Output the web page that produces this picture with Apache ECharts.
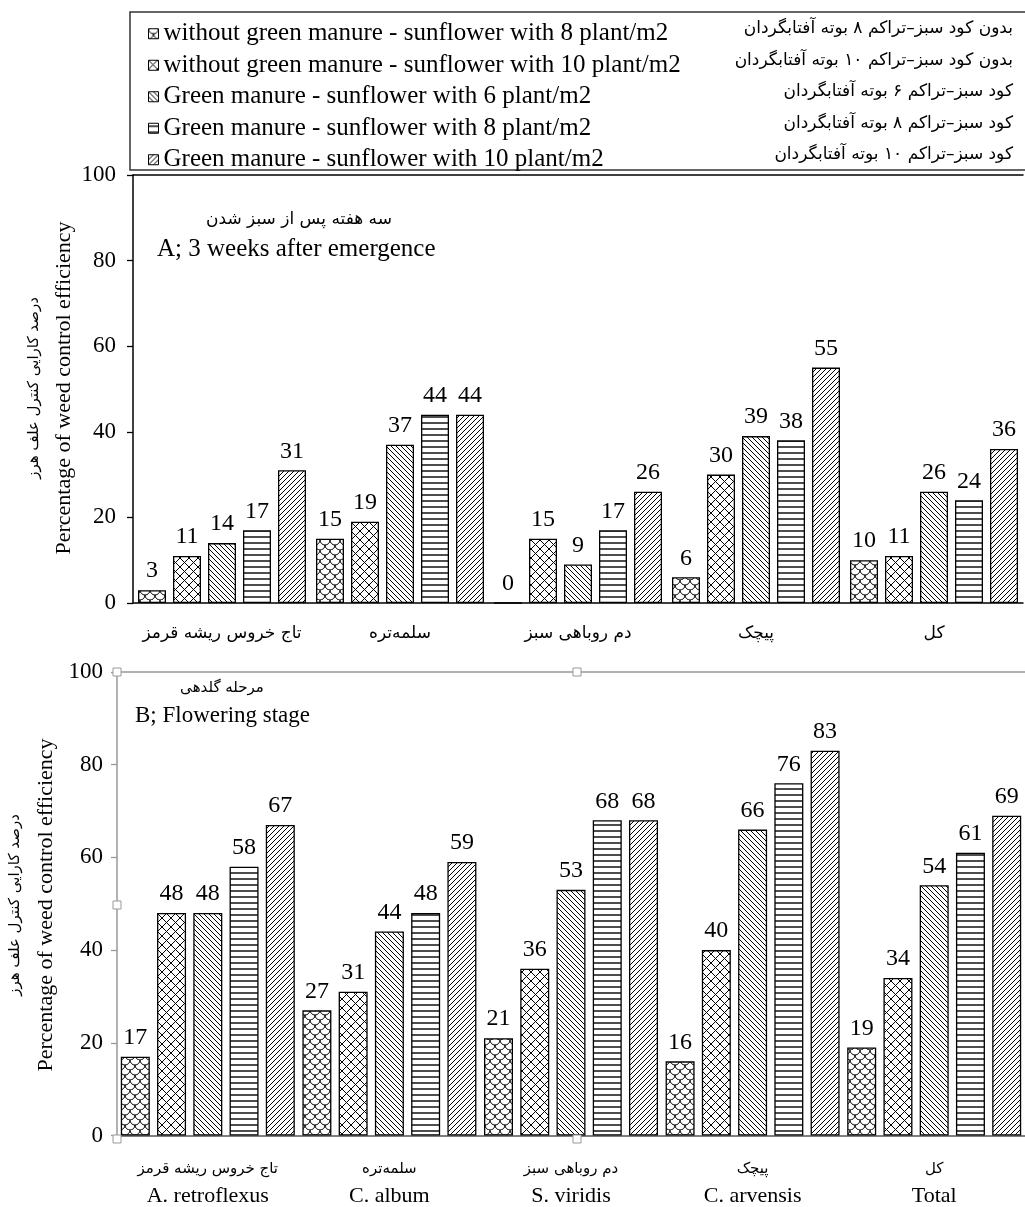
<!DOCTYPE html>
<html><head><meta charset="utf-8">
<script src="https://cdn.jsdelivr.net/npm/echarts@6/dist/echarts.min.js"></script>
<style>html,body{margin:0;padding:0;background:#fff}#c{width:1025px;height:1207px}</style>
</head><body><div id="c"></div>
<script>
// ---- data ----
const categoriesFa = ['تاج خروس ریشه قرمز', 'سلمه‌تره', 'دم روباهی سبز', 'پیچک', 'کل'];
const categoriesEn = ['A. retroflexus', 'C. album', 'S. viridis', 'C. arvensis', 'Total'];
const seriesNames = [
  'without green manure - sunflower with 8 plant/m2',
  'without green manure - sunflower with 10 plant/m2',
  'Green manure - sunflower with 6 plant/m2',
  'Green manure - sunflower with 8 plant/m2',
  'Green manure - sunflower with 10 plant/m2'
];
const seriesNamesFa = [
  'بدون کود سبز–تراکم ۸ بوته آفتابگردان',
  'بدون کود سبز–تراکم ۱۰ بوته آفتابگردان',
  'کود سبز–تراکم ۶ بوته آفتابگردان',
  'کود سبز–تراکم ۸ بوته آفتابگردان',
  'کود سبز–تراکم ۱۰ بوته آفتابگردان'
];
// A: 3 weeks after emergence
const stageA_noGM8  = [3, 15, 0, 6, 10];
const stageA_noGM10 = [11, 19, 15, 30, 11];
const stageA_GM6    = [14, 37, 9, 39, 26];
const stageA_GM8    = [17, 44, 17, 38, 24];
const stageA_GM10   = [31, 44, 26, 55, 36];
// B: flowering stage
const stageB_noGM8  = [17, 27, 21, 16, 19];
const stageB_noGM10 = [48, 31, 36, 40, 34];
const stageB_GM6    = [48, 44, 53, 66, 54];
const stageB_GM8    = [58, 48, 68, 76, 61];
const stageB_GM10   = [67, 59, 68, 83, 69];
const yTickMin = 0, yTickMax = 100, yTickStep = 20;
const titleEn = 'Percentage of weed control efficiency';
const titleFa = 'درصد کارایی کنترل علف هرز';
const noteA_fa = 'سه هفته پس از سبز شدن', noteA_en = 'A; 3 weeks after emergence';
const noteB_fa = 'مرحله گلدهی', noteB_en = 'B; Flowering stage';

// ---- patterns ----
function mk(w, h, draw) {
  const c = document.createElement('canvas'); c.width = w; c.height = h;
  const x = c.getContext('2d'); x.fillStyle = '#fff'; x.fillRect(0, 0, w, h);
  x.strokeStyle = '#000'; x.lineWidth = 1; x.beginPath(); draw(x, w, h); x.stroke(); return c;
}
const patScale = mk(10, 10, (x) => {
  // fish-scale / shingle look
  for (const cx of [-5, 5, 15]) { x.moveTo(cx + 5, 0); x.arc(cx, 0, 5, 0, Math.PI); }
  for (const cx of [0, 10]) { x.moveTo(cx + 5, 5); x.arc(cx, 5, 5, 0, Math.PI); }
  for (const cx of [-5, 5, 15]) { x.moveTo(cx + 5, 10); x.arc(cx, 10, 5, 0, Math.PI); }
});
const patCross = mk(9, 9, (x) => { x.moveTo(-1, -1); x.lineTo(10, 10); x.moveTo(-1, 10); x.lineTo(10, -1); });
const patBack = mk(10, 10, (x) => { for (let k = -10; k <= 10; k += 5) { x.moveTo(k, 0); x.lineTo(k + 10, 10); } });
const patHoriz = mk(6, 6, (x) => { x.lineWidth = 1.4; x.moveTo(0, 3); x.lineTo(6, 3); });
const patFwd = mk(10, 10, (x) => { for (let k = 0; k <= 20; k += 5) { x.moveTo(k, 0); x.lineTo(k - 10, 10); } });
const patterns = [patScale, patCross, patBack, patHoriz, patFwd].map(c => ({ image: c, repeat: 'repeat' }));

const serif = "'Liberation Serif', 'Times New Roman', serif";
const fa = "'DejaVu Sans', sans-serif";
const chart = echarts.init(document.getElementById('c'));

const stageA = [stageA_noGM8, stageA_noGM10, stageA_GM6, stageA_GM8, stageA_GM10];
const stageB = [stageB_noGM8, stageB_noGM10, stageB_GM6, stageB_GM8, stageB_GM10];

function mkSeries(arr, idx, barW) {
  return arr.map((d, i) => ({
    name: seriesNames[i], type: 'bar', xAxisIndex: idx, yAxisIndex: idx, data: d,
    barWidth: barW, barGap: '25%',
    itemStyle: { color: patterns[i], borderColor: '#000', borderWidth: 1.3 },
    label: { show: true, position: 'top', distance: 7, fontFamily: serif, fontSize: 24, color: '#000' },
    emphasis: { disabled: true }, animation: false
  }));
}

const yAxisBase = (idx, col, margin) => ({
  type: 'value', gridIndex: idx, min: yTickMin, max: yTickMax, interval: yTickStep,
  axisLine: { show: true, lineStyle: { color: col, width: 1.5 } },
  axisTick: { show: true, length: 6, lineStyle: { color: col, width: 1.3 } },
  axisLabel: { fontFamily: serif, fontSize: 23, color: '#000', margin: margin },
  splitLine: { show: false }
});

const graphics = [
  { type: 'rect', shape: { x: 130, y: 12, width: 1000, height: 158 }, style: { fill: 'none', stroke: '#333', lineWidth: 1.5 } }
];
const rowY = [29, 61, 92, 124, 155];
seriesNamesFa.forEach((t, i) => graphics.push({ type: 'text', x: 1013, y: rowY[i], style: { text: t, align: 'right', verticalAlign: 'middle', font: '17px ' + fa, fill: '#000' } }));
// y titles
graphics.push({ type: 'text', x: 64, y: 388, rotation: Math.PI / 2, style: { text: titleEn, align: 'center', verticalAlign: 'middle', font: '22px ' + serif, fill: '#000' } });
graphics.push({ type: 'text', x: 34, y: 388, rotation: Math.PI / 2, style: { text: titleFa, align: 'center', verticalAlign: 'middle', font: '15px ' + fa, fill: '#000' } });
graphics.push({ type: 'text', x: 46, y: 905, rotation: Math.PI / 2, style: { text: titleEn, align: 'center', verticalAlign: 'middle', font: '22px ' + serif, fill: '#000' } });
graphics.push({ type: 'text', x: 15, y: 905, rotation: Math.PI / 2, style: { text: titleFa, align: 'center', verticalAlign: 'middle', font: '15px ' + fa, fill: '#000' } });
// notes
graphics.push({ type: 'text', x: 299, y: 220, style: { text: noteA_fa, align: 'center', verticalAlign: 'middle', font: '17px ' + fa, fill: '#000' } });
graphics.push({ type: 'text', x: 157, y: 249, style: { text: noteA_en, align: 'left', verticalAlign: 'middle', font: '25px ' + serif, fill: '#000' } });
graphics.push({ type: 'text', x: 222, y: 688, style: { text: noteB_fa, align: 'center', verticalAlign: 'middle', font: '15px ' + fa, fill: '#000' } });
graphics.push({ type: 'text', x: 135, y: 716, style: { text: noteB_en, align: 'left', verticalAlign: 'middle', font: '23px ' + serif, fill: '#000' } });
// selection handles of the lower chart frame
[[117, 672], [577, 672], [117, 905], [117, 1139], [577, 1139]].forEach(p => graphics.push({
  type: 'rect', z: 100, shape: { x: p[0] - 4, y: p[1] - 4, width: 8, height: 8 }, style: { fill: '#fff', stroke: '#999', lineWidth: 1 }
}));

chart.setOption({
  animation: false,
  backgroundColor: '#fff',
  legend: {
    orient: 'vertical', left: 143, top: 13, itemGap: 0, itemWidth: 10, itemHeight: 10,
    icon: 'rect', selectedMode: false,
    data: seriesNames,
    itemStyle: { borderColor: '#000', borderWidth: 1 },
    textStyle: { fontFamily: serif, fontSize: 25, color: '#000', lineHeight: 31.5, padding: [0, 0, 0, 0] }
  },
  grid: [
    { left: 133, top: 175, width: 890, height: 428 },
    { left: 117, top: 672, width: 920, height: 467 }
  ],
  xAxis: [
    { type: 'category', gridIndex: 0, data: categoriesFa,
      axisLine: { lineStyle: { color: '#000', width: 1.5 } },
      axisTick: { length: 6, interval: 0, lineStyle: { color: '#000', width: 1.3 } },
      axisLabel: { interval: 0, margin: 22, fontFamily: fa, fontSize: 17, color: '#000' } },
    { type: 'category', gridIndex: 1, data: categoriesEn,
      axisLine: { lineStyle: { color: '#555', width: 1.5 } },
      axisTick: { length: 6, interval: 0, lineStyle: { color: '#555', width: 1.3 } },
      axisLabel: { interval: 0, margin: 20, color: '#000',
        formatter: (v, i) => '{fa|' + categoriesFa[i] + '}\n{en|' + v + '}',
        rich: { fa: { fontFamily: fa, fontSize: 15, lineHeight: 27 }, en: { fontFamily: serif, fontSize: 22, lineHeight: 27 } } } },
    { type: 'category', gridIndex: 0, position: 'top', data: categoriesFa,
      axisLine: { lineStyle: { color: '#000', width: 1.5 } }, axisTick: { show: false }, axisLabel: { show: false } },
    { type: 'category', gridIndex: 1, position: 'top', data: categoriesEn,
      axisLine: { lineStyle: { color: '#999', width: 1.5 } }, axisTick: { show: false }, axisLabel: { show: false } }
  ],
  yAxis: [yAxisBase(0, '#000', 17), yAxisBase(1, '#999', 14)],
  series: [...mkSeries(stageA, 0, 28), ...mkSeries(stageB, 1, 29)],
  graphic: graphics
});
</script></body></html>
